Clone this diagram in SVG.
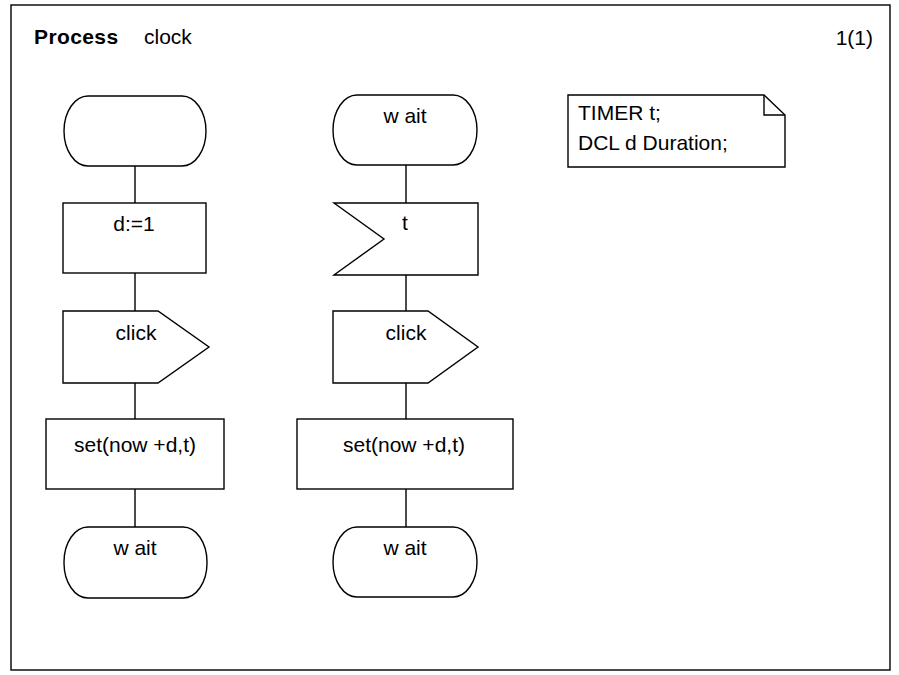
<svg xmlns="http://www.w3.org/2000/svg" width="899" height="675" viewBox="0 0 899 675">
  <style>
    .shape { fill: #ffffff; stroke: #000000; stroke-width: 1.4; }
    .line { fill: none; stroke: #000000; stroke-width: 1.4; }
    .label { font-family: "Liberation Sans", Arial, sans-serif; font-size: 21px; fill: #000000; }
    .mid { text-anchor: middle; }
    .title { font-weight: bold; letter-spacing: 0.4px; }
  </style>
  <rect width="899" height="675" fill="#ffffff"/>

  <!-- page frame and header -->
  <g id="frame">
    <rect class="shape" x="11" y="5" width="879" height="665"/>
    <text class="label title" x="34" y="44">Process</text>
    <text class="label" x="144" y="44">clock</text>
    <text class="label" x="873" y="45" text-anchor="end">1(1)</text>
  </g>

  <!-- flow lines -->
  <g id="connectors">
    <path class="line" d="M135,166 V203 M135,273 V311 M135,383 V419 M135,489 V527"/>
    <path class="line" d="M406,165 V203 M406,275 V311 M406,383 V419 M406,489 V527"/>
  </g>

  <!-- left column: start transition -->
  <g id="start">
    <rect class="shape" x="64" y="96" width="142" height="70" rx="24" ry="35"/>
  </g>
  <g id="task-d">
    <rect class="shape" x="63" y="203" width="143" height="70"/>
    <text class="label mid" x="134" y="231">d:=1</text>
  </g>
  <g id="output-click-1">
    <path class="shape" d="M63,311 H158 L209,347 L158,383 H63 Z"/>
    <text class="label mid" x="136" y="340">click</text>
  </g>
  <g id="task-set-1">
    <rect class="shape" x="46" y="419" width="178" height="70"/>
    <text class="label mid" x="135" y="452">set(now +d,t)</text>
  </g>
  <g id="nextstate-wait-1">
    <rect class="shape" x="64" y="527" width="143" height="71" rx="24" ry="35"/>
    <text class="label mid" x="135" y="555">w ait</text>
  </g>

  <!-- right column: state wait -->
  <g id="state-wait">
    <rect class="shape" x="333" y="95" width="144" height="70" rx="24" ry="35"/>
    <text class="label mid" x="405" y="123">w ait</text>
  </g>
  <g id="input-t">
    <path class="shape" d="M334,203 H478 V275 H334 L384,239 Z"/>
    <text class="label mid" x="405" y="230">t</text>
  </g>
  <g id="output-click-2">
    <path class="shape" d="M333,311 H428 L478,347 L428,383 H333 Z"/>
    <text class="label mid" x="406" y="340">click</text>
  </g>
  <g id="task-set-2">
    <rect class="shape" x="297" y="419" width="216" height="70"/>
    <text class="label mid" x="404" y="452">set(now +d,t)</text>
  </g>
  <g id="nextstate-wait-2">
    <rect class="shape" x="333" y="527" width="144" height="70" rx="24" ry="35"/>
    <text class="label mid" x="405" y="555">w ait</text>
  </g>

  <!-- declarations -->
  <g id="declarations">
    <path class="shape" d="M568,95 H764 L785,115 V167 H568 Z"/>
    <path class="line" d="M764,95 V115 H785"/>
    <text class="label" x="578" y="120">TIMER t;</text>
    <text class="label" x="578" y="150">DCL d Duration;</text>
  </g>
</svg>
